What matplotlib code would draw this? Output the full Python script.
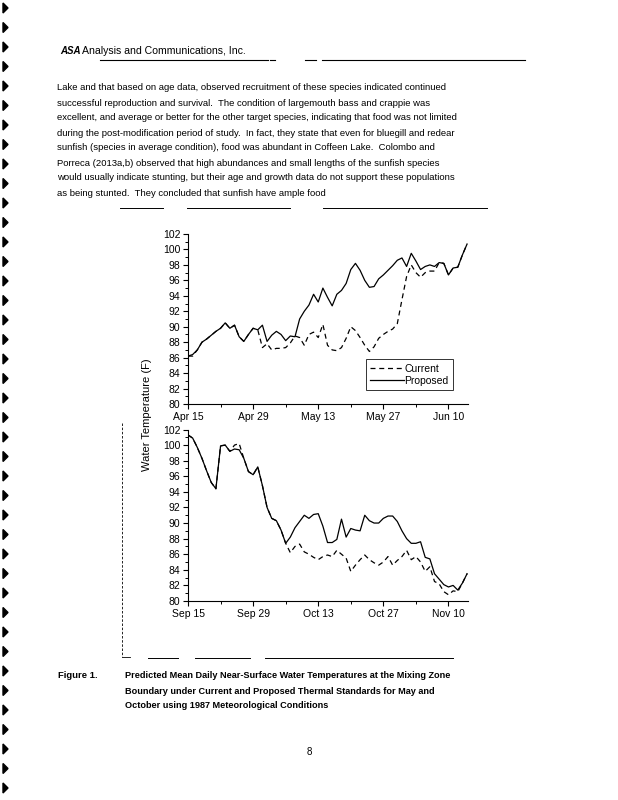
import matplotlib
matplotlib.use("Agg")
import matplotlib.pyplot as plt
import numpy as np
from matplotlib.lines import Line2D
from matplotlib.patches import Polygon

plt.rcParams["font.family"] = ["Liberation Sans", "DejaVu Sans"]

# --- data (deg F, one value per day) ---
spring_ticks = ["Apr 15", "Apr 29", "May 13", "May 27", "Jun 10"]
fall_ticks = ["Sep 15", "Sep 29", "Oct 13", "Oct 27", "Nov 10"]

spring_proposed = [
    86.2, 86.4, 87.0, 88.0, 88.4, 88.9, 89.4, 89.8, 90.5, 89.8,
    90.2, 88.7, 88.1, 89.0, 89.8, 89.6, 90.2, 88.1, 88.9, 89.4,
    89.0, 88.2, 88.8, 88.7, 91.0, 92.0, 92.8, 94.2, 93.2, 95.0,
    93.8, 92.7, 94.2, 94.7, 95.6, 97.4, 98.2, 97.3, 96.0, 95.1,
    95.2, 96.2, 96.7, 97.3, 97.9, 98.6, 98.9, 97.8, 99.5, 98.5,
    97.4, 97.8, 98.0, 97.8, 98.3, 98.2, 96.7, 97.6, 97.7, 99.3,
    100.7,
]
spring_current = [
    86.2, 86.2, 87.0, 88.0, 88.4, 88.9, 89.4, 89.8, 90.5, 89.8,
    90.2, 88.7, 88.1, 89.0, 89.8, 89.6, 87.3, 87.8, 87.0, 87.2,
    87.2, 87.3, 87.9, 88.8, 88.6, 87.6, 89.0, 89.3, 88.6, 90.3,
    87.6, 87.0, 86.9, 87.3, 88.5, 90.0, 89.5, 88.6, 87.6, 86.8,
    87.4, 88.5, 89.0, 89.4, 89.7, 90.4, 93.5, 96.5, 98.0, 97.0,
    96.4, 97.0, 97.2, 97.2, 98.3, 98.2, 96.7, 97.6, 97.7, 99.3,
    100.7,
]
fall_proposed = [
    101.3, 100.9, 99.7, 98.3, 96.7, 95.2, 94.4, 99.9, 100.0, 99.2,
    99.5, 99.4, 98.3, 96.6, 96.2, 97.2, 94.8, 92.0, 90.6, 90.3,
    89.1, 87.4, 88.2, 89.4, 90.2, 91.0, 90.6, 91.1, 91.2, 89.6,
    87.5, 87.5, 87.9, 90.5, 88.2, 89.3, 89.1, 89.0, 91.0, 90.3,
    90.0, 90.0, 90.6, 90.9, 90.9, 90.2, 89.0, 88.0, 87.4, 87.4,
    87.6, 85.6, 85.4, 83.5, 82.8, 82.1, 81.8, 82.0, 81.4, 82.3,
    83.5,
]
fall_current = [
    101.3, 100.9, 99.7, 98.3, 96.7, 95.2, 94.4, 99.9, 100.0, 99.2,
    100.0, 100.2, 98.3, 96.6, 96.2, 97.2, 94.8, 92.0, 90.6, 90.3,
    89.1, 87.4, 86.2, 87.0, 87.3, 86.3, 86.0, 85.6, 85.3, 85.7,
    85.9, 85.7, 86.5, 86.0, 85.5, 83.8, 84.6, 85.3, 85.9, 85.3,
    84.9, 84.6, 85.0, 85.7, 84.6, 85.2, 85.7, 86.5, 85.3, 85.7,
    85.0, 83.8, 84.4, 82.5, 82.2, 81.2, 80.8, 81.3, 81.2, 82.3,
    83.5,
]

body_lines = [
    "Lake and that based on age data, observed recruitment of these species indicated continued",
    "successful reproduction and survival.  The condition of largemouth bass and crappie was",
    "excellent, and average or better for the other target species, indicating that food was not limited",
    "during the post-modification period of study.  In fact, they state that even for bluegill and redear",
    "sunfish (species in average condition), food was abundant in Coffeen Lake.  Colombo and",
    "Porreca (2013a,b) observed that high abundances and small lengths of the sunfish species",
    "would usually indicate stunting, but their age and growth data do not support these populations",
    "as being stunted.  They concluded that sunfish have ample food",
]
caption_lines = [
    "Predicted Mean Daily Near-Surface Water Temperatures at the Mixing Zone",
    "Boundary under Current and Proposed Thermal Standards for May and",
    "October using 1987 Meteorological Conditions",
]


def style_axis(ax, tick_labels):
    days = np.arange(len(spring_proposed))
    ax.set_xlim(0, days[-1] + 0.2)
    ax.set_ylim(80, 102)
    ax.set_yticks(np.arange(80, 103, 2))
    ax.set_yticks(np.arange(81, 102, 2), minor=True)
    ax.set_xticks(np.arange(0, 57, 14))
    ax.set_xticks(np.arange(7, 61, 14), minor=True)
    ax.set_xticklabels(tick_labels)
    ax.spines["top"].set_visible(False)
    ax.spines["right"].set_visible(False)
    for s in ("left", "bottom"):
        ax.spines[s].set_linewidth(0.8)
    ax.tick_params(axis="both", which="major", direction="out", length=3.5,
                   width=0.8, labelsize=7.5, pad=2)
    ax.tick_params(axis="both", which="minor", direction="out", length=2,
                   width=0.7)
    ax.set_facecolor("none")


fig = plt.figure(figsize=(6.18, 8.0), dpi=100)
fig.patch.set_facecolor("white")

days = np.arange(len(spring_proposed))

ax1 = fig.add_axes([188 / 618, 1 - 404 / 800, 280 / 618, 170 / 800])
ax1.plot(days, spring_current, color="black", lw=0.9, ls=(0, (4, 3)), label="Current")
ax1.plot(days, spring_proposed, color="black", lw=0.9, label="Proposed")
style_axis(ax1, spring_ticks)
leg = ax1.legend(loc="lower right", bbox_to_anchor=(0.965, 0.05), fontsize=7.5,
                 frameon=True, fancybox=False, handlelength=3.2, handletextpad=0.1,
                 borderpad=0.4, labelspacing=0.25)
leg.get_frame().set_edgecolor("black")
leg.get_frame().set_linewidth(0.7)

ax2 = fig.add_axes([188 / 618, 1 - 601 / 800, 280 / 618, 171.5 / 800])
ax2.plot(days, fall_current, color="black", lw=0.9, ls=(0, (4, 3)))
ax2.plot(days, fall_proposed, color="black", lw=0.9)
style_axis(ax2, fall_ticks)

fig.text(147 / 618, 1 - 415 / 800, "Water Temperature (F)", rotation=90,
         ha="center", va="center", fontsize=8)

# page header
fig.text(60 / 618, 1 - 51 / 800, "ASA", fontsize=7, fontstyle="italic",
         fontweight="bold", va="center")
fig.text(82 / 618, 1 - 51 / 800, "Analysis and Communications, Inc.", fontsize=7.6,
         va="center")
for x0, x1 in [(100, 268), (270, 275), (305, 316), (322, 525)]:
    fig.add_artist(Line2D([x0 / 618, x1 / 618], [1 - 60 / 800] * 2,
                          color="black", lw=0.8))

# body paragraph
for i, line in enumerate(body_lines):
    fig.text(57 / 618, 1 - (88 + 15 * i) / 800, line, fontsize=6.8, va="center")

# figure frame (broken lines from the scan)
for x0, x1 in [(120, 163), (187, 290), (323, 487)]:
    fig.add_artist(Line2D([x0 / 618, x1 / 618], [1 - 208 / 800] * 2,
                          color="black", lw=0.7))
for x0, x1 in [(148, 178), (195, 250), (265, 453)]:
    fig.add_artist(Line2D([x0 / 618, x1 / 618], [1 - 658 / 800] * 2,
                          color="black", lw=0.7))
fig.add_artist(Line2D([122 / 618] * 2, [1 - 423 / 800, 1 - 657 / 800],
                      color="black", lw=0.6, ls=(0, (3, 2))))
fig.add_artist(Line2D([122 / 618, 130 / 618], [1 - 657 / 800] * 2,
                      color="black", lw=0.6))

# caption
fig.text(58 / 618, 1 - 676 / 800, "Figure 1.", fontsize=6.8, fontweight="bold",
         va="center")
for i, line in enumerate(caption_lines):
    fig.text(125 / 618, 1 - (676 + 15 * i) / 800, line, fontsize=6.6,
             fontweight="bold", va="center")

fig.text(309 / 618, 1 - 752 / 800, "8", fontsize=7, ha="center", va="center")

# binding marks down the left edge of the scan
for y in np.arange(8, 790, 19.5):
    yy = 1 - y / 800
    fig.add_artist(Polygon([[3 / 618, yy + 5 / 800], [8 / 618, yy],
                            [3 / 618, yy - 5 / 800]], closed=True,
                           color="black", transform=fig.transFigure))

fig.savefig("out.png", dpi=100)
plt.close(fig)
